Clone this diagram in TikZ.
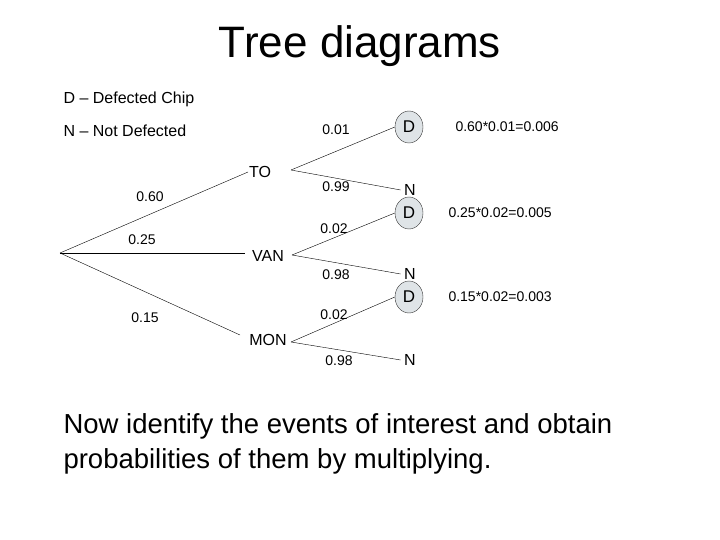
\documentclass[tikz,border=0pt]{standalone}
\usepackage{fontspec}
\setmainfont{Liberation Sans}
\usetikzlibrary{shapes.geometric}
\begin{document}
\begin{tikzpicture}[x=1pt,y=-1pt]
\tikzstyle{lbl} = [font=\fontsize{16}{18}\selectfont];
\tikzstyle{num} = [font=\fontsize{14}{16}\selectfont];
\tikzstyle{dnode} = [ellipse, draw=black!80, fill=cyan!15!gray!25, inner sep=1pt, minimum width=28, minimum height=32, font=\fontsize{17}{18}\selectfont];
\useasboundingbox (0,0) rectangle (720,540);
\node[font=\fontsize{44}{48}\selectfont] (title) at (360,46) {Tree diagrams};
\node[lbl, anchor=west] (leg1) at (60,99) {D -- Defected Chip};
\node[lbl, anchor=west] (leg2) at (60,131) {N -- Not Defected};
\coordinate (root) at (60,253);
\node[lbl] (to) at (260,172) {TO};
\node[lbl] (van) at (268,256) {VAN};
\node[lbl] (mon) at (268,340) {MON};
\coordinate (to0) at (248,172);
\coordinate (van0) at (245,253);
\coordinate (mon0) at (240,335);
\coordinate (to1) at (291,170);
\coordinate (van1) at (292,255);
\coordinate (mon1) at (291,342);
\node[dnode] (d1) at (409,127) {D};
\node[dnode] (d2) at (409,213) {D};
\node[dnode] (d3) at (409,297) {D};
\node[lbl] (n1) at (410,190) {N};
\node[lbl] (n2) at (410,274) {N};
\node[lbl] (n3) at (410,360) {N};
\draw (root) -- (to0);
\draw (root) -- (van0);
\draw (root) -- (mon0);
\draw (to1) -- (d1.west);
\draw (to1) -- (n1.west);
\draw (van1) -- (d2.west);
\draw (van1) -- (n2.west);
\draw (mon1) -- (d3.west);
\draw (mon1) -- (n3.west);
\node[num] (p1) at (150,197) {0.60};
\node[num] (p2) at (142,240) {0.25};
\node[num] (p3) at (145,318) {0.15};
\node[num] (q1) at (336,130) {0.01};
\node[num] (q2) at (336,187) {0.99};
\node[num] (q3) at (334,229) {0.02};
\node[num] (q4) at (336,275) {0.98};
\node[num] (q5) at (334,315) {0.02};
\node[num] (q6) at (339,361) {0.98};
\node[num, anchor=west] (r1) at (452,127) {0.60*0.01=0.006};
\node[num, anchor=west] (r2) at (445,213) {0.25*0.02=0.005};
\node[num, anchor=west] (r3) at (445,297) {0.15*0.02=0.003};
\node[font=\fontsize{27.5}{35}\selectfont, anchor=north west, align=left] (txt) at (60,410) {Now identify the events of interest and obtain\\probabilities of them by multiplying.};
\end{tikzpicture}
\end{document}
